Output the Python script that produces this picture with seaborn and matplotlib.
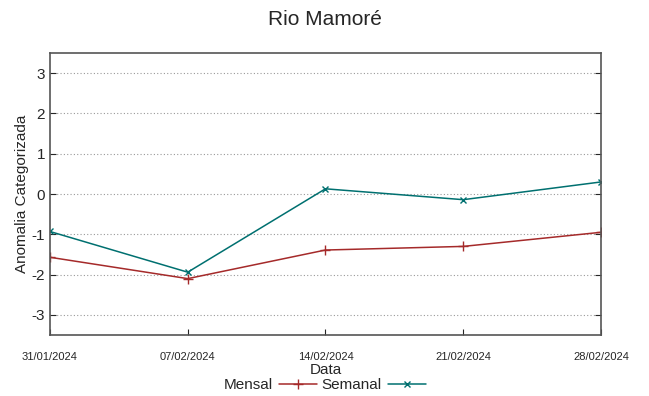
import numpy as np
import pandas as pd
import matplotlib
matplotlib.use('Agg')
import matplotlib.pyplot as plt
import seaborn as sns

datas = ['31/01/2024', '07/02/2024', '14/02/2024', '21/02/2024', '28/02/2024']
mensal = [-1.57, -2.10, -1.39, -1.30, -0.95]
semanal = [-0.93, -1.94, 0.13, -0.14, 0.30]

df = pd.DataFrame({'Data': pd.to_datetime(datas, format='%d/%m/%Y'),
                   'Mensal': mensal, 'Semanal': semanal})

sns.set_style('white')
plt.rcParams['font.family'] = ['Liberation Sans', 'DejaVu Sans']

fig = plt.figure(figsize=(6.49, 3.96), dpi=100)
ax = fig.add_axes([0.077, 0.154, 0.849, 0.712])

sns.lineplot(data=df, x='Data', y='Mensal', ax=ax, color='#a52a2a', lw=1.1,
             marker='+', markersize=7, mew=1, mec='#a52a2a', label='Mensal')
sns.lineplot(data=df, x='Data', y='Semanal', ax=ax, color='#007070', lw=1.1,
             marker='x', markersize=5, mew=1, mec='#007070', label='Semanal')

ax.set_ylim(-3.5, 3.5)
ax.set_xlim(df['Data'].iloc[0], df['Data'].iloc[-1])
ax.set_yticks([-3, -2, -1, 0, 1, 2, 3])
ax.set_yticklabels(['-3', '-2', '-1', '0', '1', '2', '3'], fontsize=11)
ax.set_xticks(df['Data'])
ax.set_xticklabels(datas, fontsize=8)
ax.tick_params(axis='x', direction='in', length=4, pad=12, bottom=True)
ax.tick_params(axis='y', direction='in', length=4, left=True, right=True)
ax.yaxis.grid(True, linestyle=(0, (1, 2)), color='#999999', lw=0.8)
for s in ax.spines.values():
    s.set_color('#555555')
    s.set_linewidth(1.2)

ax.set_xlabel('Data', fontsize=11, labelpad=1)
ax.set_ylabel('Anomalia Categorizada', fontsize=11, labelpad=2)
fig.suptitle('Rio Mamoré', fontsize=15, y=0.975)

ax.get_legend().remove()
h, l = ax.get_legend_handles_labels()
fig.legend(h, l, loc='lower center', bbox_to_anchor=(0.5, -0.025), ncol=2,
           frameon=False, markerfirst=False, fontsize=11, handlelength=2.5,
           columnspacing=0.3, handletextpad=0.4)

fig.savefig('out.png', dpi=100)
